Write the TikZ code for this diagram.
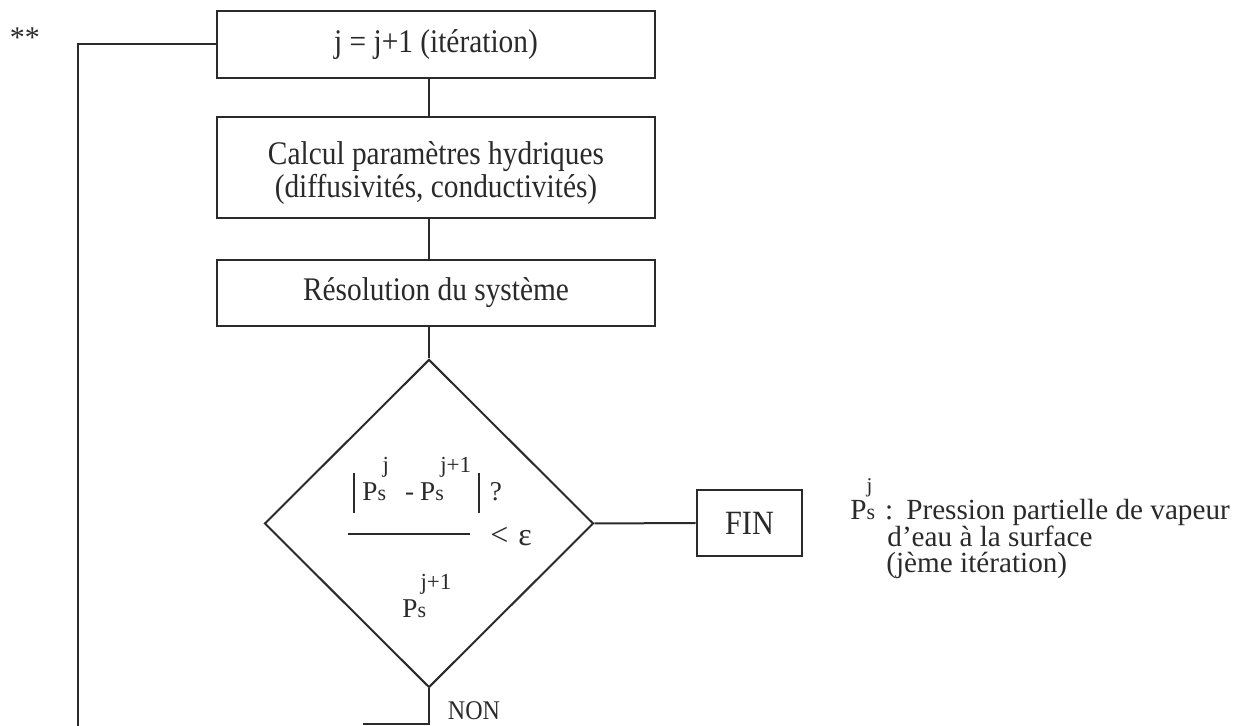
\documentclass[tikz,border=0pt]{standalone}
\usepackage{fontspec}
\setmainfont{Liberation Serif}
\newfontfamily\condensed{Liberation Serif}[FakeStretch=0.89]
\usetikzlibrary{shapes.geometric}
\definecolor{ink}{HTML}{2a2a2a}
% P with small s and a raised exponent placed above the s
\newcommand\PSx[4]{P\rlap{\hspace{#3}\raisebox{#2}{\fontsize{#4}{#4}\selectfont #1}}{\fontsize{11}{11}\selectfont s}}
\newcommand\absbar{\rule[-6pt]{1pt}{20pt}}
\begin{document}
\begin{tikzpicture}[x=0.5pt,y=-0.5pt,
  box/.style={draw=ink, line width=1.3pt, fill=white, inner sep=0pt, text=ink,
    font=\condensed\fontsize{16.5}{13}\selectfont, align=center},
  link/.style={draw=ink, line width=1pt},
  formula/.style={inner sep=0pt, text=ink, font=\fontsize{13.6}{13.6}\selectfont},
  legend/.style={inner sep=0pt, text=ink, font=\fontsize{14.6}{13.4}\selectfont, align=left}]
\useasboundingbox (0,0) rectangle (1244,726);

\node[box, minimum width=219pt, minimum height=33.5pt] (b1) at (436,44.5) {j = j+1 (itération)};
\node[box, minimum width=219pt, minimum height=50.5pt] (b2) at (436,167.5) {\rule{0pt}{17pt}Calcul paramètres hydriques\\(diffusivités, conductivités)};
\node[box, minimum width=219pt, minimum height=33pt] (b3) at (436,293) {Résolution du système};
\node[diamond, draw=ink, line width=1pt, minimum width=164.5pt, minimum height=164pt, inner sep=0pt] (d) at (429,523.5) {};
\node[box, minimum width=52.5pt, minimum height=33pt, font=\condensed\fontsize{17}{17}\selectfont] (fin) at (749.5,523) {FIN};

\node[formula, anchor=base west] (num) at (353,501) {\absbar\hspace{3.5pt}\PSx{j}{14pt}{2.5pt}{11.5}\hspace{9.5pt}-\hspace{3pt}\PSx{j+1}{14pt}{2.5pt}{11.5}\hspace{17pt}\absbar\hspace{5pt}?};
\draw[link] (348,534) -- (470,534);
\node[formula, font=\fontsize{16}{16}\selectfont] (lt) at (511,536) {<\hspace{5pt}ε};
\node[formula, anchor=base west] (den) at (402,618) {\PSx{j+1}{14pt}{1.5pt}{11.5}};

\node[legend, anchor=base west] (leg) at (850,573) {\PSx{j}{13.5pt}{0pt}{10.5}\hspace{5pt}:\hspace{6.5pt}Pression partielle de vapeur\\\hspace{18.5pt}d'eau à la surface\\\hspace{18pt}(jème itération)};

\node[text=ink, inner sep=0pt, font=\condensed\fontsize{13.5}{13.5}\selectfont] (non) at (474,711) {NON};
\node[text=ink, inner sep=0pt, font=\fontsize{15}{15}\selectfont] (ast) at (25,38) {**};

\draw[link] (b1.south -| d.north) -- (b2.north -| d.north);
\draw[link] (b2.south -| d.north) -- (b3.north -| d.north);
\draw[link] (b3.south -| d.north) -- (d.north);
\draw[link] (d.east) -- (fin.west);
\coordinate (bl) at (363,724);
\draw[link] (d.south) |- (bl);
\coordinate (lb) at (77.5,726);
\draw[link] (lb) |- (b1.west);
\end{tikzpicture}
\end{document}
